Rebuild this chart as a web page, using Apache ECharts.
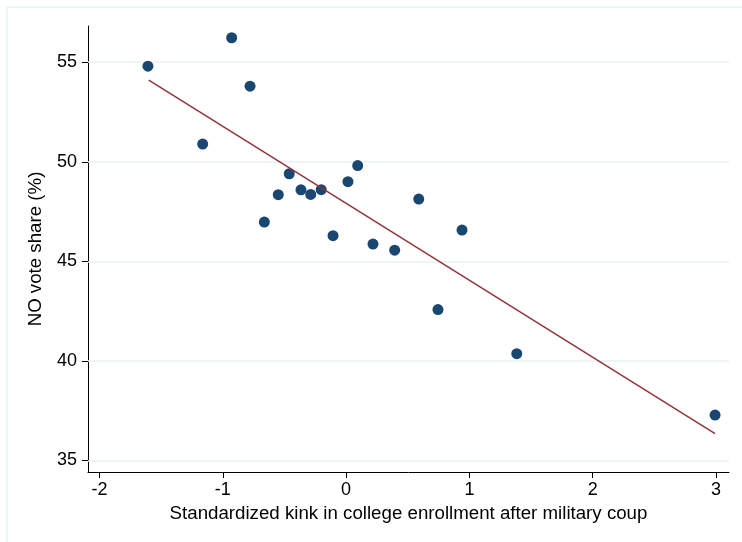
<!DOCTYPE html>
<html>
<head>
<meta charset="utf-8">
<script src="https://cdn.jsdelivr.net/npm/echarts@6/dist/echarts.min.js"></script>
<style>
html,body{margin:0;padding:0;background:#fff;}
#chart{width:742px;height:542px;}
</style>
</head>
<body>
<div id="chart"></div>
<script>
// Data
const kinkX = [-1.607, -0.928, -0.779, -1.163, -0.461, -0.550, -0.366, -0.287, -0.202, -0.663,
               0.015, 0.094, -0.106, 0.218, 0.394, 0.589, 0.745, 0.940, 1.384, 2.992];
const noShare = [54.80, 56.23, 53.80, 50.89, 49.40, 48.35, 48.59, 48.36, 48.60, 46.97,
                 49.00, 49.81, 46.29, 45.87, 45.56, 48.13, 42.58, 46.57, 40.36, 37.28];
const fitX = [-1.600, 2.992];
const fitY = [54.10, 36.35];
const xTicks = [-2, -1, 0, 1, 2, 3];
const yTicks = [35, 40, 45, 50, 55];

const scatterData = kinkX.map((x, i) => [x, noShare[i]]);
const fitData = fitX.map((x, i) => [x, fitY[i]]);

const chart = echarts.init(document.getElementById('chart'), null, {renderer: 'canvas'});
const font = '"Liberation Sans", Arial, Helvetica, sans-serif';

chart.setOption({
  animation: false,
  backgroundColor: '#ffffff',
  graphic: [
    {type: 'line', shape: {x1: 7, y1: 7, x2: 742, y2: 7}, style: {stroke: '#e9f0f0', lineWidth: 1.5}, silent: true},
    {type: 'line', shape: {x1: 7, y1: 7, x2: 7, y2: 542}, style: {stroke: '#e9f0f0', lineWidth: 1.5}, silent: true}
  ],
  grid: {left: 88, right: 13, top: 26, bottom: 70, containLabel: false},
  xAxis: {
    type: 'value',
    min: -2.093, max: 3.105,
    name: 'Standardized kink in college enrollment after military coup',
    nameLocation: 'middle',
    nameGap: 29,
    nameTextStyle: {fontFamily: font, fontSize: 18.7, color: '#000'},
    axisLine: {show: true, onZero: false, lineStyle: {color: '#000', width: 1}},
    axisTick: {show: true, length: 6, lineStyle: {color: '#000', width: 1}, customValues: xTicks},
    axisLabel: {fontFamily: font, fontSize: 18, color: '#000', margin: 9, customValues: xTicks,
                formatter: v => String(v)},
    splitLine: {show: false}
  },
  yAxis: {
    type: 'value',
    min: 34.42, max: 56.82,
    name: 'NO vote share (%)',
    nameLocation: 'middle',
    nameGap: 43,
    nameRotate: 90,
    nameTextStyle: {fontFamily: font, fontSize: 18.7, color: '#000'},
    axisLine: {show: true, onZero: false, lineStyle: {color: '#000', width: 1}},
    axisTick: {show: true, length: 6, lineStyle: {color: '#000', width: 1}, customValues: yTicks},
    axisLabel: {fontFamily: font, fontSize: 18, color: '#000', margin: 11, customValues: yTicks,
                formatter: v => String(v)},
    splitLine: {show: false}
  },
  series: [
    {
      type: 'scatter',
      data: scatterData,
      symbol: 'circle',
      symbolSize: 11,
      itemStyle: {color: '#1a476f', opacity: 1},
      z: 3,
      markLine: {
        silent: true,
        symbol: ['none', 'none'],
        label: {show: false},
        lineStyle: {color: '#eaf2f3', width: 1.5, type: 'solid'},
        data: yTicks.map(v => ({yAxis: v})),
        z: 1
      }
    },
    {
      type: 'line',
      data: fitData,
      symbol: 'none',
      lineStyle: {color: '#90353b', width: 1.5},
      z: 4
    }
  ]
});
</script>
</body>
</html>
